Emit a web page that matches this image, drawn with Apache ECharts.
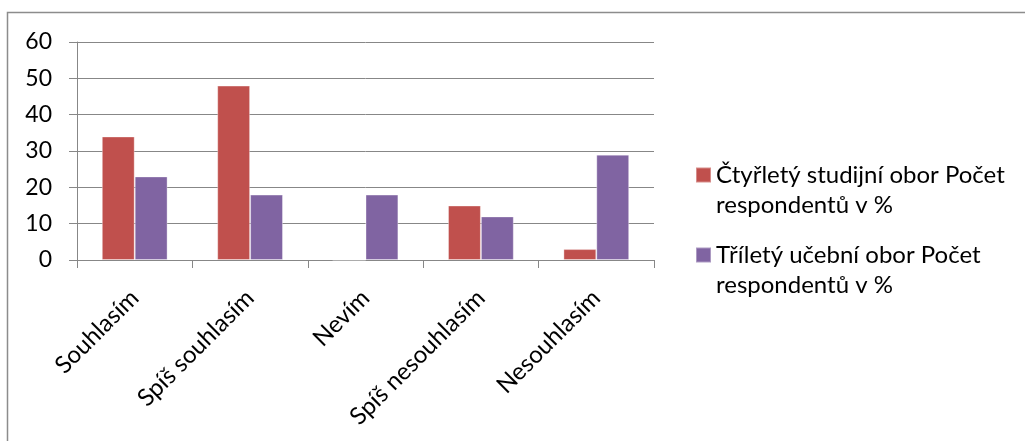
<!DOCTYPE html>
<html>
<head>
<meta charset="utf-8">
<script src="https://cdn.jsdelivr.net/npm/echarts@6/dist/echarts.min.js"></script>
<style>
  html, body { margin: 0; padding: 0; background: #fff; }
  #chart { width: 1025px; height: 441px; }
</style>
</head>
<body>
<div id="chart"></div>
<script>
// Survey answers and share of respondents (%) per study programme
const categories = ['Souhlasím', 'Spíš souhlasím', 'Nevím', 'Spíš nesouhlasím', 'Nesouhlasím'];
const seriesNames = [
  'Čtyřletý studijní obor Počet respondentů v %',
  'Tříletý učební obor Počet respondentů v %'
];
const fourYear = [34, 48, 0, 15, 3];
const threeYear = [23, 18, 18, 12, 29];
const yTicks = [0, 10, 20, 30, 40, 50, 60];
const colors = ['#C0504D', '#8064A2'];

const FONT = 'Lato';
const GRAY = '#878787';

const chart = echarts.init(document.getElementById('chart'), null, { renderer: 'canvas' });

// Legend labels wrap before "respondentů"; a leading blank line keeps
// the swatch level with the first line of text.
function wrapLegend(name) {
  const i = name.indexOf(' respondentů');
  const body = i > 0 ? name.slice(0, i) + '\n' + name.slice(i + 1) : name;
  return ' \n' + body;
}

function barSeries(name, data, color) {
  return {
    name: name,
    type: 'bar',
    data: data,
    barGap: '0%',
    barCategoryGap: '43%',
    itemStyle: { color: color, borderColor: 'rgba(255,255,255,0.35)', borderWidth: 1 },
    emphasis: { disabled: true }
  };
}

chart.setOption({
  animation: false,
  color: colors,
  textStyle: { fontFamily: FONT },
  graphic: [{
    type: 'rect',
    shape: { x: 7.5, y: 12.5, width: 1040, height: 450 },
    style: { fill: 'none', stroke: '#8c8c8c', lineWidth: 1.5 },
    silent: true
  }],
  grid: { left: 77, right: 371, top: 42, bottom: 181 },
  legend: {
    orient: 'vertical',
    left: 695,
    top: 130,
    padding: 0,
    icon: 'rect',
    itemWidth: 15,
    itemHeight: 15,
    itemGap: -10,
    selectedMode: false,
    formatter: wrapLegend,
    textStyle: {
      fontFamily: FONT,
      fontSize: 24,
      color: '#000',
      lineHeight: 30
    },
    data: seriesNames
  },
  xAxis: {
    type: 'category',
    data: categories,
    boundaryGap: true,
    axisLine: { show: true, lineStyle: { color: GRAY, width: 1 } },
    axisTick: { show: true, length: 8, alignWithLabel: false, lineStyle: { color: GRAY } },
    axisLabel: {
      rotate: 45,
      interval: 0,
      margin: 34,
      fontFamily: FONT,
      fontSize: 24,
      color: '#000'
    }
  },
  yAxis: {
    type: 'value',
    min: yTicks[0],
    max: yTicks[yTicks.length - 1],
    interval: 10,
    axisLine: { show: true, lineStyle: { color: GRAY, width: 1 } },
    axisTick: { show: true, length: 8, lineStyle: { color: GRAY } },
    splitLine: { show: true, lineStyle: { color: GRAY, width: 1 } },
    axisLabel: {
      margin: 25,
      fontFamily: FONT,
      fontSize: 23,
      color: '#000',
      formatter: v => yTicks.includes(v) ? String(v) : ''
    }
  },
  series: [
    barSeries(seriesNames[0], fourYear, colors[0]),
    barSeries(seriesNames[1], threeYear, colors[1])
  ]
});
</script>
</body>
</html>
